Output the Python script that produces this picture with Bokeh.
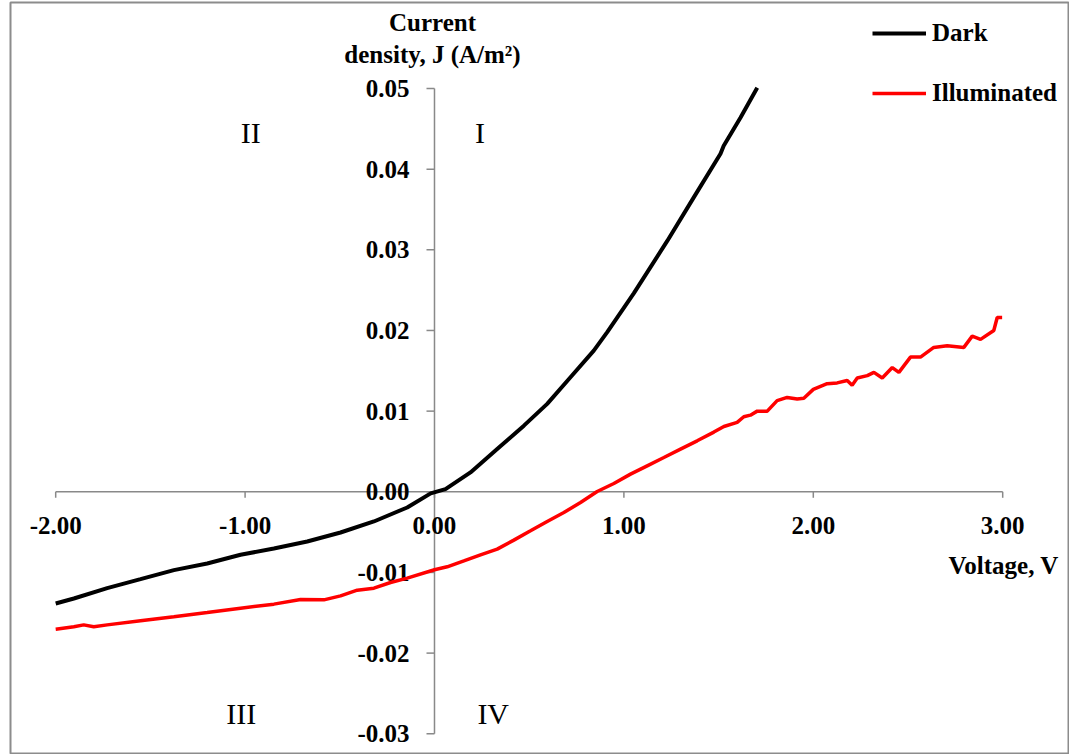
from bokeh.plotting import figure
from bokeh.models import Range1d, Legend, LegendItem
from bokeh.core.properties import value
from bokeh.embed import file_html
from bokeh.resources import INLINE

# ---- data ----
dark_v = [-2.0, -1.904, -1.728, -1.552, -1.376, -1.2, -1.024, -0.848, -0.672, -0.496,
          -0.32, -0.144, -0.02, 0.058, 0.19, 0.331, 0.472, 0.595, 0.718, 0.841, 0.912,
          1.052, 1.229, 1.369, 1.51, 1.527, 1.616, 1.704]
dark_j = [-0.01385, -0.01323, -0.01194, -0.01083, -0.00971, -0.00889, -0.00781, -0.00703,
          -0.00616, -0.00505, -0.00368, -0.00195, -0.0002, 0.00033, 0.0024, 0.0053, 0.0082,
          0.0109, 0.0142, 0.0175, 0.0198, 0.0246, 0.0311, 0.0365, 0.0419, 0.0429, 0.0464, 0.0501]

illum_v = [-2.0, -1.904, -1.852, -1.799, -1.728, -1.552, -1.376, -1.2, -1.024, -0.848,
           -0.707, -0.584, -0.496, -0.408, -0.32, -0.232, -0.144, 0.0, 0.067, 0.155,
           0.243, 0.331, 0.419, 0.507, 0.595, 0.683, 0.771, 0.859, 0.947, 1.035, 1.123,
           1.211, 1.299, 1.387, 1.475, 1.528, 1.598, 1.633, 1.668, 1.704, 1.757, 1.809,
           1.862, 1.915, 1.95, 2.0, 2.073, 2.126, 2.179, 2.205, 2.232, 2.285, 2.32,
           2.364, 2.417, 2.452, 2.513, 2.566, 2.636, 2.707, 2.795, 2.839, 2.883, 2.953,
           2.971, 2.997]
illum_j = [-0.01703, -0.01674, -0.0165, -0.01674, -0.0165, -0.016, -0.0155, -0.01497,
           -0.01443, -0.01393, -0.01336, -0.0134, -0.0129, -0.0122, -0.01195, -0.01125,
           -0.01071, -0.00967, -0.0093, -0.00856, -0.00781, -0.00711, -0.00599, -0.00484,
           -0.00368, -0.00257, -0.00133, 0.00004, 0.00103, 0.00219, 0.00322, 0.00425,
           0.00529, 0.00632, 0.0074, 0.0081, 0.0086, 0.0093, 0.0095, 0.0100, 0.0100,
           0.0113, 0.0117, 0.0115, 0.0116, 0.0127, 0.0134, 0.0135, 0.0138, 0.0132, 0.0141,
           0.0144, 0.0148, 0.0141, 0.0154, 0.0148, 0.0167, 0.0167, 0.0179, 0.0181, 0.0179,
           0.0193, 0.0189, 0.02, 0.0216, 0.0216]

x_ticks = [-2, -1, 0, 1, 2, 3]
x_tick_labels = ["-2.00", "-1.00", "0.00", "1.00", "2.00", "3.00"]
y_ticks = [-0.03, -0.02, -0.01, 0.0, 0.01, 0.02, 0.03, 0.04, 0.05]
y_tick_labels = ["-0.03", "-0.02", "-0.01", "0.00", "0.01", "0.02", "0.03", "0.04", "0.05"]

quadrants = ["II", "I", "III", "IV"]
quad_x = [-0.97, 0.24, -1.02, 0.31]
quad_y = [0.0445, 0.0445, -0.0275, -0.0275]

FONT = value("Liberation Serif")
AXIS_COLOR = "#898989"

p = figure(width=1069, height=754, output_backend="svg", toolbar_location=None,
           x_range=Range1d(-2.2386, 3.3474), y_range=Range1d(-0.03257, 0.06066),
           min_border_left=10, min_border_right=1, min_border_top=2, min_border_bottom=0)
p.xaxis.visible = False
p.yaxis.visible = False
p.grid.visible = False
p.outline_line_color = "#8c8c8c"
p.outline_line_width = 2
p.background_fill_color = "white"
p.border_fill_color = "white"

xmin, xmax = x_ticks[0], x_ticks[-1]
ymin, ymax = y_ticks[0], y_ticks[-1]
xtick_len = 6 / 8066.0
ytick_len = 8 / 189.4

# axis lines through the origin
p.segment(x0=[xmin], y0=[0], x1=[xmax], y1=[0], line_color=AXIS_COLOR, line_width=1.5)
p.segment(x0=[0], y0=[ymin], x1=[0], y1=[ymax], line_color=AXIS_COLOR, line_width=1.5)
# ticks
p.segment(x0=x_ticks, y0=[0] * len(x_ticks), x1=x_ticks, y1=[-xtick_len] * len(x_ticks),
          line_color=AXIS_COLOR, line_width=1.5)
p.segment(x0=[0] * len(y_ticks), y0=y_ticks, x1=[-ytick_len] * len(y_ticks), y1=y_ticks,
          line_color=AXIS_COLOR, line_width=1.5)
# tick labels
p.text(x=x_ticks, y=[0] * len(x_ticks), text=x_tick_labels, text_font=FONT,
       text_font_style="bold", text_font_size="25px", text_align="center",
       text_baseline="middle", y_offset=34, text_color="black")
p.text(x=[0] * len(y_ticks), y=y_ticks, text=y_tick_labels, text_font=FONT,
       text_font_style="bold", text_font_size="25px", text_align="right",
       text_baseline="middle", x_offset=-25, text_color="black")

# axis titles
p.text(x=[0, 0], y=[ymax, ymax], text=["Current", "density, J (A/m\u00b2)"], text_font=FONT,
       text_font_style="bold", text_font_size="25px", text_align="center",
       text_baseline="middle", y_offset=[-66, -34], x_offset=-2, text_color="black")
p.text(x=[xmax], y=[0], text=["Voltage, V"], text_font=FONT, text_font_style="bold",
       text_font_size="25px", text_align="right", text_baseline="middle",
       x_offset=56, y_offset=74, text_color="black")

# quadrant labels
p.text(x=quad_x, y=quad_y, text=quadrants, text_font=FONT, text_font_size="30px",
       text_align="center", text_baseline="middle", text_color="black")

# data lines
r_dark = p.line(dark_v, dark_j, line_color="black", line_width=4)
r_ill = p.line(illum_v, illum_j, line_color="#ff0000", line_width=3.5)

legend = Legend(items=[LegendItem(label="Dark", renderers=[r_dark]),
                       LegendItem(label="Illuminated", renderers=[r_ill])],
                location=(862, 647), padding=0, margin=0, spacing=32,
                glyph_width=54, glyph_height=20, label_height=20, label_standoff=6,
                label_text_font="Liberation Serif", label_text_font_style="bold",
                label_text_font_size="25px", label_text_color="black",
                border_line_color=None, background_fill_alpha=0)
p.add_layout(legend, "center")

open("out.html", "w").write(file_html(p, INLINE))
